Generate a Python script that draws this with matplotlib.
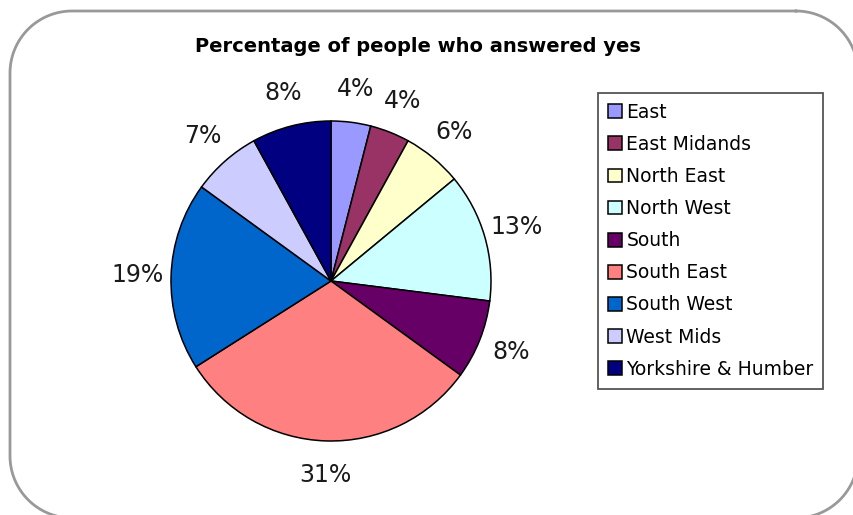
import numpy as np
import matplotlib
matplotlib.use("Agg")
import matplotlib.pyplot as plt

# data
regions = ["East", "East Midands", "North East", "North West", "South",
           "South East", "South West", "West Mids", "Yorkshire & Humber"]
pct_yes = [4, 4, 6, 13, 8, 31, 19, 7, 8]
colours = ["#9999FF", "#993366", "#FFFFCC", "#CCFFFF", "#660066",
           "#FF8080", "#0066CC", "#CCCCFF", "#000080"]

W, H = 854, 515
fig = plt.figure(figsize=(W / 100, H / 100), dpi=100)
fig.patch.set_facecolor("white")

# rounded chart-area border in pixel coords, runs off the right/bottom edge
bg = fig.add_axes([0, 0, 1, 1])
bg.set_xlim(0, W)
bg.set_ylim(H, 0)
bg.axis("off")
x0, y0, x1, y1, rr = 10, 11, 858, 518, 62
pts = []
for (ccx, ccy, a0) in [(x1 - rr, y0 + rr, -90), (x1 - rr, y1 - rr, 0),
                       (x0 + rr, y1 - rr, 90), (x0 + rr, y0 + rr, 180)]:
    t = np.radians(np.linspace(a0, a0 + 90, 30))
    pts += list(zip(ccx + rr * np.cos(t), ccy + rr * np.sin(t)))
pts.append(pts[0])
bx, by = zip(*pts)
bg.plot(bx, by, color="#999999", lw=2.0, clip_on=True)

fig.text(418 / W, 1 - 46 / H, "Percentage of people who answered yes",
         ha="center", va="center", fontsize=14, fontweight="bold",
         family="DejaVu Sans")

# pie, centre (331, 281) px, radius 160 px
cx, cy, r = 331, 281, 160
ax = fig.add_axes([(cx - r) / W, (H - cy - r) / H, 2 * r / W, 2 * r / H])
wedges, _, autotexts = ax.pie(
    pct_yes, colors=colours, startangle=90, counterclock=False,
    autopct=lambda p: "%.0f%%" % p, pctdistance=1.21,
    wedgeprops=dict(edgecolor="black", linewidth=1.1),
    textprops=dict(fontsize=17, color="#1a1a1a"))
ax.set_xlim(-1, 1)
ax.set_ylim(-1, 1)
ax.set_aspect("equal")
ax.axis("off")

leg = fig.legend(wedges, regions, loc="upper left",
                 bbox_to_anchor=(598 / W, 1 - 93 / H), borderaxespad=0,
                 fontsize=13.5, frameon=True, fancybox=False,
                 edgecolor="#555555", framealpha=1,
                 handlelength=0.75, handleheight=0.75, handletextpad=0.25,
                 labelspacing=0.7, borderpad=0.52)
leg.get_frame().set_linewidth(1.3)

fig.savefig("out.png", dpi=100)
